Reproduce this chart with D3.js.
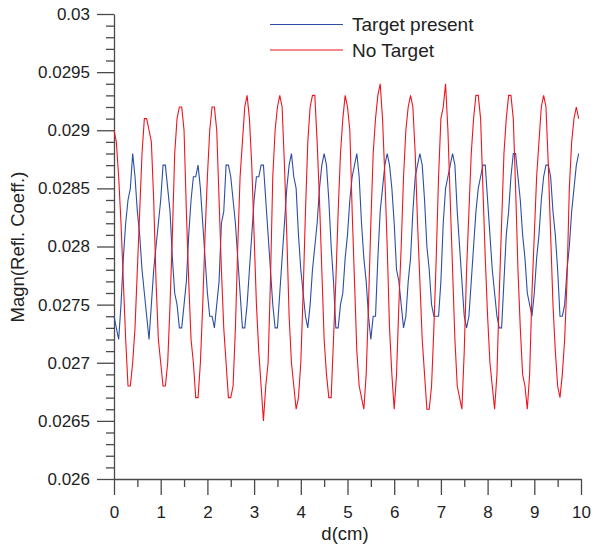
<!DOCTYPE html>
<html>
<head>
<meta charset="utf-8">
<title>Magn(Refl. Coeff.) vs d</title>
<style>
  body { margin: 0; background: #fff; }
  svg { display: block; font-family: "Liberation Sans", Arial, sans-serif; }
</style>
</head>
<body>
<svg width="594" height="548" viewBox="0 0 594 548"></svg>
<script src="https://d3js.org/d3.v7.min.js"></script>
<script>
// sample positions: 0 .. 9.95 cm, every 0.05 cm
const dStep = 0.05;
const dValues = d3.range(200).map(i => +(i * dStep).toFixed(2));

const targetPresent = [
  0.0274,0.0273,0.0272,0.0275,0.0279,0.0282,0.0284,0.0285,0.0288,0.0286,
  0.0283,0.0281,0.0278,0.0276,0.0274,0.0272,0.0275,0.0278,0.0280,0.0282,
  0.0284,0.0287,0.0287,0.0285,0.0283,0.0279,0.0276,0.0275,0.0273,0.0273,
  0.0275,0.0277,0.0281,0.0284,0.0286,0.0286,0.0287,0.0285,0.0282,0.0279,
  0.0276,0.0274,0.0274,0.0273,0.0275,0.0277,0.0282,0.0283,0.0287,0.0287,
  0.0286,0.0284,0.0282,0.0279,0.0276,0.0273,0.0273,0.0275,0.0278,0.0281,
  0.0284,0.0286,0.0286,0.0287,0.0287,0.0284,0.0281,0.0278,0.0275,0.0273,
  0.0273,0.0276,0.0279,0.0282,0.0285,0.0287,0.0288,0.0286,0.0285,0.0281,
  0.0278,0.0276,0.0274,0.0273,0.0275,0.0278,0.0280,0.0282,0.0285,0.0287,
  0.0288,0.0287,0.0284,0.0280,0.0277,0.0273,0.0273,0.0275,0.0276,0.0279,
  0.0281,0.0284,0.0286,0.0287,0.0288,0.0286,0.0282,0.0279,0.0277,0.0274,
  0.0272,0.0274,0.0274,0.0279,0.0283,0.0285,0.0287,0.0288,0.0287,0.0285,
  0.0282,0.0278,0.0277,0.0275,0.0273,0.0274,0.0277,0.0279,0.0283,0.0286,
  0.0287,0.0288,0.0287,0.0284,0.0280,0.0278,0.0275,0.0274,0.0274,0.0274,
  0.0277,0.0282,0.0285,0.0286,0.0287,0.0288,0.0287,0.0283,0.0280,0.0277,
  0.0274,0.0273,0.0274,0.0277,0.0280,0.0283,0.0285,0.0286,0.0287,0.0287,
  0.0284,0.0281,0.0278,0.0276,0.0274,0.0273,0.0273,0.0277,0.0281,0.0283,
  0.0286,0.0288,0.0288,0.0286,0.0284,0.0281,0.0279,0.0276,0.0275,0.0274,
  0.0276,0.0279,0.0281,0.0284,0.0286,0.0287,0.0287,0.0286,0.0283,0.0281,
  0.0278,0.0274,0.0274,0.0275,0.0278,0.0280,0.0283,0.0285,0.0287,0.0288
];

const noTarget = [
  0.0290,0.0289,0.0286,0.0282,0.0277,0.0272,0.0268,0.0268,0.0270,0.0273,
  0.0278,0.0283,0.0288,0.0291,0.0291,0.0290,0.0289,0.0284,0.0277,0.0272,
  0.0270,0.0268,0.0268,0.0270,0.0275,0.0281,0.0288,0.0291,0.0292,0.0292,
  0.0290,0.0283,0.0277,0.0272,0.0270,0.0267,0.0267,0.0270,0.0275,0.0281,
  0.0286,0.0290,0.0292,0.0292,0.0290,0.0284,0.0278,0.0273,0.0270,0.0267,
  0.0267,0.0268,0.0273,0.0280,0.0286,0.0289,0.0292,0.0293,0.0291,0.0287,
  0.0281,0.0275,0.0271,0.0268,0.0265,0.0268,0.0270,0.0277,0.0286,0.0290,
  0.0292,0.0293,0.0292,0.0287,0.0281,0.0274,0.0270,0.0268,0.0266,0.0267,
  0.0270,0.0276,0.0283,0.0289,0.0292,0.0293,0.0293,0.0289,0.0284,0.0278,
  0.0272,0.0269,0.0267,0.0267,0.0272,0.0277,0.0283,0.0288,0.0291,0.0293,
  0.0292,0.0290,0.0283,0.0277,0.0271,0.0268,0.0267,0.0266,0.0269,0.0275,
  0.0282,0.0288,0.0291,0.0293,0.0294,0.0291,0.0286,0.0280,0.0273,0.0269,
  0.0266,0.0269,0.0275,0.0280,0.0286,0.0290,0.0292,0.0293,0.0292,0.0288,
  0.0282,0.0277,0.0272,0.0269,0.0266,0.0266,0.0268,0.0273,0.0279,0.0286,
  0.0291,0.0292,0.0294,0.0290,0.0284,0.0278,0.0272,0.0268,0.0267,0.0266,
  0.0271,0.0278,0.0283,0.0288,0.0291,0.0293,0.0293,0.0291,0.0285,0.0279,
  0.0274,0.0270,0.0268,0.0266,0.0269,0.0276,0.0282,0.0288,0.0291,0.0293,
  0.0293,0.0291,0.0285,0.0278,0.0273,0.0269,0.0268,0.0266,0.0269,0.0276,
  0.0281,0.0286,0.0289,0.0292,0.0293,0.0292,0.0287,0.0281,0.0275,0.0271,
  0.0268,0.0267,0.0269,0.0272,0.0277,0.0285,0.0289,0.0291,0.0292,0.0291
];

const xTicks = [0, 1, 2, 3, 4, 5, 6, 7, 8, 9, 10];
const xMinorTicks = [0.5, 1.5, 2.5, 3.5, 4.5, 5.5, 6.5, 7.5, 8.5, 9.5];
const yTicks = [0.026, 0.0265, 0.027, 0.0275, 0.028, 0.0285, 0.029, 0.0295, 0.03];
const yMinorTicks = d3.range(40).map(i => +(0.026 + i * 0.0001).toFixed(4))
  .filter(v => !yTicks.includes(v));

const series = [
  { name: 'Target present', values: targetPresent, color: '#2c4ea5' },
  { name: 'No Target', values: noTarget, color: '#f0141e' }
];

const svg = d3.select('svg');
const axisColor = '#4a4a4a';
const textColor = '#222';

const x = d3.scaleLinear().domain([0, 10]).range([114, 581]);
const y = d3.scaleLinear().domain([0.026, 0.03]).range([479, 14]);

// minor ticks first, major on top
svg.append('g')
  .attr('transform', 'translate(0,479)')
  .call(d3.axisBottom(x).tickValues(xMinorTicks).tickSize(8).tickFormat(''))
  .call(g => g.select('.domain').remove());
svg.append('g')
  .attr('transform', 'translate(114,0)')
  .call(d3.axisLeft(y).tickValues(yMinorTicks).tickSize(8).tickFormat(''))
  .call(g => g.select('.domain').remove());

const gx = svg.append('g')
  .attr('transform', 'translate(0,479)')
  .call(d3.axisBottom(x).tickValues(xTicks).tickSize(16).tickSizeOuter(0).tickPadding(11));
const gy = svg.append('g')
  .attr('transform', 'translate(114,0)')
  .call(d3.axisLeft(y).tickValues(yTicks).tickSize(17).tickSizeOuter(0).tickPadding(7)
    .tickFormat(d => String(+d.toFixed(4))));

svg.selectAll('.tick line').attr('stroke', axisColor).attr('stroke-width', 1.3);
svg.selectAll('.domain').attr('stroke', axisColor).attr('stroke-width', 1.3);
[gx, gy].forEach(g => g.selectAll('text')
  .attr('fill', textColor)
  .attr('font-size', '17px')
  .attr('font-family', '"Liberation Sans", Arial, sans-serif'));

// axis titles
svg.append('text')
  .attr('x', 345)
  .attr('y', 540)
  .attr('text-anchor', 'middle')
  .attr('font-size', '18.5px')
  .attr('fill', textColor)
  .text('d(cm)');

svg.append('text')
  .attr('transform', 'translate(24,247) rotate(-90)')
  .attr('text-anchor', 'middle')
  .attr('font-size', '18.5px')
  .attr('fill', textColor)
  .text('Magn(Refl. Coeff.)');

// curves
const line = d3.line()
  .x((v, i) => x(dValues[i]))
  .y(v => y(v));

svg.selectAll('.curve').data(series).enter()
  .append('path')
    .attr('class', 'curve')
    .attr('d', s => line(s.values))
    .attr('fill', 'none')
    .attr('stroke', s => s.color)
    .attr('stroke-width', 1.1)
    .attr('stroke-linejoin', 'miter');

// legend
const legend = svg.selectAll('.key').data(series).enter()
  .append('g')
    .attr('class', 'key')
    .attr('transform', (s, i) => `translate(270,${24.5 + i * 25.5})`);
legend.append('line')
  .attr('x1', 0)
  .attr('x2', 73)
  .attr('stroke', s => s.color)
  .attr('stroke-width', 1.1);
legend.append('text')
  .attr('x', 82)
  .attr('dy', '0.36em')
  .attr('font-size', '19px')
  .attr('fill', textColor)
  .text(s => s.name);
</script>
</body>
</html>
